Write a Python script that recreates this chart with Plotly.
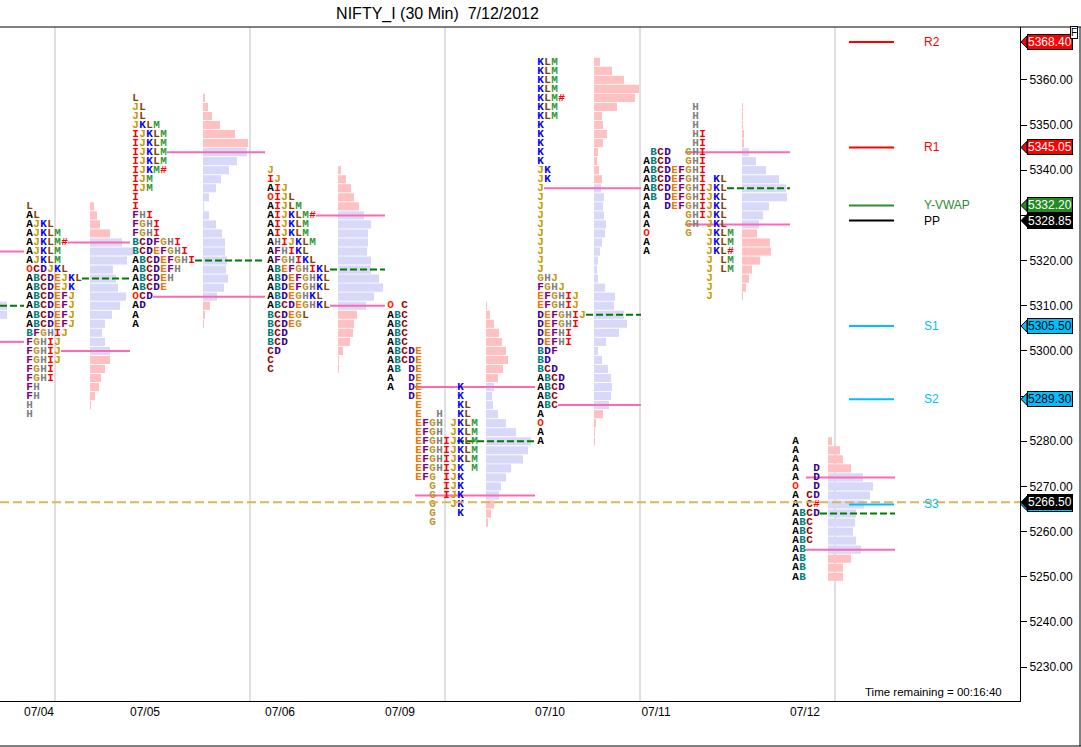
import plotly.graph_objects as go

# ---------------- data ----------------
days = ["07/04", "07/05", "07/06", "07/09", "07/10", "07/11", "07/12"]

# each profile: price of its top row, then one row every 2 points going down
top_0704 = 5332
tpo_0704 = ["L", "AL", "AJKL", "AJKLM", "AJKLM#", "AJKLM", "AJKLM", "OCDJKL",
            "ABCDEJKL", "ABCDEJK", "ABCDEFJ", "ABCDEFJ", "ABCDEFJ", "ABCDEFJ",
            "BFGHIJ", "FGHIJ", "FGHIJ", "FGHIJ", "FGHI", "FGHI", "FH", "FH", "H", "H"]
vol_0704 = [4, 7, 10, 20, 32, 43, 37, 23, 26, 28, 36, 30, 22, 15, 12, 15, 20, 20,
            15, 11, 9, 5, 1, 0]

top_0705 = 5356
tpo_0705 = ["L", "JL", "JL", "JKLM", "IJKLM", "IJKLM", "IJKLM", "IJKLM", "IJKM#",
            "IJM", "IJM", "I", "I", "FHI", "FGHI", "FGHI", "BCDFGHI", "BCDEFGHI",
            "ABCDEFGHI", "ABCDEFH", "ABCDEH", "ABCDE", "OCD", "AD", "A", "A"]
vol_0705 = [2, 5, 9, 17, 32, 45, 44, 34, 26, 18, 13, 6, 1, 6, 13, 19, 22, 22, 24,
            23, 25, 21, 14, 7, 2, 1]

top_0706 = 5340
tpo_0706 = ["J", "IJ", "AIJ", "OIJL", "AIJLM", "AIJKLM#", "AIJKLM", "AIJKLM",
            "AHIJKLM", "AFHIKL", "AFGHIKL", "ABEFGHIKL", "ABDEFGHKL", "ABDEFGHKL",
            "ABDEGHKL", "ABCDEGHKL", "BCDEGL", "BCDEG", "BCD", "BCD", "CD", "C", "C"]
vol_0706 = [3, 8, 13, 16, 21, 26, 33, 30, 30, 29, 33, 33, 41, 45, 36, 28, 19, 16,
            15, 12, 5, 1, 1]

top_0709 = 5310
tpo_0709 = ["O C", "ABC", "ABC", "ABC", "ABC", "ABCDE", "ABCDE", "AB DE", "A  DE",
            "A  DE     K", "   DE     K", "    E     KL", "    E  H  KL",
            "    EFGH JKLM", "    EFGH JKLM", "    EFGHIJKLM", "    EFGHIJKLM",
            "    EFGHIJKLM", "    EFGHIJK M", "    EFG IJK", "      G IJK",
            "      G IJK", "      G  JK", "      G   K", "      G"]
vol_0709 = [1, 4, 8, 13, 16, 20, 22, 17, 12, 8, 6, 7, 12, 20, 30, 45, 42, 37, 25,
            20, 15, 13, 8, 5, 2]

top_0710 = 5364
tpo_0710 = ["KLM", "KLM", "KLM", "KLM", "KLM#", "KLM", "KLM", "K", "K", "K", "K", "K",
            "JK", "JK", "J", "J", "J", "J", "J", "J", "J", "J", "J", "J", "GHJ",
            "FGHJ", "EFGHIJ", "EFGHIJ", "DEFGHIJ", "DEFGHI", "DEFHI", "DEFHI", "BDF",
            "BD", "BCD", "ABCD", "ABCD", "ABC", "ABC", "A", "O", "A", "A"]
vol_0710 = [6, 18, 30, 45, 41, 23, 8, 9, 13, 9, 4, 3, 5, 8, 7, 10, 9, 10, 12, 11, 8,
            6, 4, 3, 4, 11, 21, 20, 30, 33, 25, 12, 4, 8, 14, 17, 18, 17, 15, 9, 2, 1, 1]

top_0711 = 5354
tpo_0711 = ["       H", "       H", "       H", "       HI", "       HI",
            " BCD  GHI", "ABCD  GHI", "ABCDEFGHI", "ABCDEFGHI KL", "ABCDEFGHIJKL",
            "AB DEFGHIJKL", "A  DEFGHIJKL", "A     GHIJKL", "A     GH JKL",
            "O     G  JKLM", "A        JKLM", "A        JKL#", "         J LM",
            "         J LM", "         J", "         J", "         J"]
vol_0711 = [1, 1, 1, 2, 2, 7, 14, 24, 37, 44, 45, 27, 21, 17, 15, 28, 29, 18, 10, 7, 4, 1]

top_0712 = 5280
tpo_0712 = ["A", "A", "A", "A  D", "A  D", "O  D", "A CD", "A C#", "ABCD", "ABC",
            "ABC", "ABC", "AB", "AB", "AB", "AB"]
vol_0712 = [4, 12, 15, 23, 35, 45, 42, 36, 28, 27, 25, 28, 33, 23, 15, 15]

# value area high, point of control, value area low
vah = [5324, 5344, 5330, 5292, 5336, 5344, 5272]
poc = [5316, 5320, 5318, 5280, 5308, 5336, 5264]
val = [5300, 5312, 5310, 5268, 5288, 5328, 5256]

# tail of the previous session (07/03) at the left edge
prev_top = 5310
prev_vol = [7, 7]
prev_vah, prev_poc, prev_val = 5322, 5310, 5302

pivot_names = ["R2", "R1", "Y-VWAP", "PP", "S1", "S2", "S3"]
pivot_vals = [5368.40, 5345.05, 5332.20, 5328.85, 5305.50, 5289.30, 5266.00]
last_price = 5266.50

# ---------------- layout / style ----------------
tick = 2
char_w = 7
day_x0 = [26, 132, 267, 387, 537, 643, 792]
session_lines = [55, 250, 445, 640, 835]
last_line_end = 895
line_cols = {"07/09": (4, 10, 4), "07/11": (6, 12, 6), "07/12": (2, 4, 2)}

pink = "#FFC0C2"
lav = "#D8D8F8"
va_line = "#FF69B4"
poc_line = "#007A00"

letter_colors = {
    "A": "#000000", "B": "#008080", "C": "#990000", "D": "#330099",
    "E": "#F07800", "F": "#800080", "G": "#BC9430", "H": "#808080",
    "I": "#FF0000", "J": "#C89B00", "K": "#0000FF", "L": "#8B4000",
    "M": "#339933", "O": "#FF2000", "#": "#FF0000",
}
pivot_colors = ["#FF0000", "#FF0000", "#2E8B2E", "#000000", "#00BFFF", "#00BFFF", "#00BFFF"]
tag_bg = ["#FF0000", "#FF0000", "#228B22", "#000000", "#00BFFF", "#00BFFF", "#00BFFF"]
tag_fg = ["white", "white", "white", "white", "black", "black", "black"]

tops = [top_0704, top_0705, top_0706, top_0709, top_0710, top_0711, top_0712]
tpos = [tpo_0704, tpo_0705, tpo_0706, tpo_0709, tpo_0710, tpo_0711, tpo_0712]
vols = [vol_0704, vol_0705, vol_0706, vol_0709, vol_0710, vol_0711, vol_0712]

Y0, Y1 = 5222.5, 5371.7

fig = go.Figure()

# previous session remnant
prev_prices = [prev_top - tick * k for k in range(len(prev_vol))]
fig.add_trace(go.Bar(x=prev_vol, y=prev_prices, base=0, orientation="h", width=1.8,
                     marker=dict(color=lav, line_width=0)))
for lvl, col, dash in [(prev_vah, va_line, "solid"), (prev_poc, poc_line, "7px,3px"),
                       (prev_val, va_line, "solid")]:
    fig.add_trace(go.Scatter(x=[0, day_x0[0] - 2], y=[lvl, lvl], mode="lines",
                             line=dict(color=col, width=2, dash=dash)))

letters = {}
for d in range(len(days)):
    rows = tpos[d]
    prices = [tops[d] - tick * k for k in range(len(rows))]
    ncols = max(len(r) for r in rows)
    hx = day_x0[d] + char_w * ncols + 8

    # volume histogram
    colors = [lav if val[d] <= p <= vah[d] else pink for p in prices]
    fig.add_trace(go.Bar(x=vols[d], y=prices, base=hx, orientation="h", width=1.8,
                         marker=dict(color=colors, line_width=0)))

    # value area / poc lines
    end = day_x0[d + 1] - 2 if d + 1 < len(days) else last_line_end
    for j, (lvl, col, dash) in enumerate([(vah[d], va_line, "solid"),
                                          (poc[d], poc_line, "7px,3px"),
                                          (val[d], va_line, "solid")]):
        k = (tops[d] - lvl) // tick
        c = line_cols[days[d]][j] if days[d] in line_cols else len(rows[k].rstrip())
        fig.add_trace(go.Scatter(x=[day_x0[d] + char_w * c, end], y=[lvl, lvl],
                                 mode="lines", line=dict(color=col, width=2, dash=dash)))

    # TPO letters
    for p, r in zip(prices, rows):
        for i, ch in enumerate(r):
            if ch == " ":
                continue
            letters.setdefault(ch, ([], []))
            letters[ch][0].append(day_x0[d] + char_w * i + 3.5)
            letters[ch][1].append(p)

for ch, (xs, ys) in letters.items():
    fig.add_trace(go.Scatter(
        x=xs, y=ys, mode="text", text=[ch] * len(xs), textposition="middle center",
        textfont=dict(family="Liberation Mono", size=11, color=letter_colors[ch],
                      weight="bold"),
    ))

# last price
fig.add_trace(go.Scatter(x=[0, 1020], y=[last_price, last_price], mode="lines",
                         line=dict(color="#DDB55E", width=2, dash="9px,4px")))

# pivot levels
annotations = []
for name, v, col in zip(pivot_names, pivot_vals, pivot_colors):
    fig.add_trace(go.Scatter(x=[849, 894], y=[v, v], mode="lines",
                             line=dict(color=col, width=2)))
    annotations.append(dict(x=922, y=v, xref="x", yref="y", text=name, showarrow=False,
                            xanchor="left", yanchor="middle",
                            font=dict(family="Liberation Sans", size=12, color=col)))

# price tags on the axis
shapes = []
px = 1 / 1020.0
tag_list = list(zip(pivot_vals, tag_bg, tag_fg))
tag_list.append((last_price, "#000000", "white"))
for v, bg, fg in tag_list:
    annotations.append(dict(x=1027 * px, y=v, xref="paper", yref="y", text="%.2f" % v,
                            showarrow=False, xanchor="left", yanchor="middle",
                            bgcolor=bg, bordercolor="black", borderwidth=1, borderpad=0,
                            font=dict(family="Liberation Sans", size=12, color=fg)))
    shapes.append(dict(type="path", xref="paper", yref="y",
                       path="M %f,%f L %f,%f L %f,%f Z" % (1021 * px, v, 1027 * px, v + 1.35,
                                                           1027 * px, v - 1.35),
                       fillcolor=bg, line=dict(color="black", width=1)))

for sx in session_lines:
    shapes.append(dict(type="line", xref="x", yref="paper", x0=sx, x1=sx, y0=0, y1=1,
                       line=dict(color="#C0C0C0", width=1), layer="below"))

# outer frame
shapes.append(dict(type="line", xref="paper", yref="paper", x0=0, x1=1081 * px, y0=1, y1=1,
                   line=dict(color="black", width=1)))
shapes.append(dict(type="line", xref="paper", yref="paper", x0=0, x1=1081 * px,
                   y0=-45 / 674.0, y1=-45 / 674.0, line=dict(color="black", width=1)))
shapes.append(dict(type="line", xref="paper", yref="paper", x0=1080 * px, x1=1080 * px,
                   y0=-45 / 674.0, y1=1, line=dict(color="black", width=1)))

annotations.append(dict(x=1074 * px, y=1 - 6 / 674.0, xref="paper", yref="paper", text="F",
                        showarrow=False, xanchor="center", yanchor="middle",
                        bordercolor="black", borderwidth=1, borderpad=0, bgcolor="white",
                        font=dict(family="Liberation Sans", size=10, color="black")))
annotations.append(dict(x=1004 * px, y=9 / 674.0, xref="paper", yref="paper",
                        text="Time remaining = 00:16:40", showarrow=False,
                        xanchor="right", yanchor="middle",
                        font=dict(family="Liberation Sans", size=11.5, color="black")))

fig.update_layout(
    width=1081, height=747,
    margin=dict(l=0, r=61, t=27, b=46),
    paper_bgcolor="white", plot_bgcolor="white",
    showlegend=False, barmode="overlay",
    title=dict(text="NIFTY_I (30 Min) \u00a07/12/2012", x=437.5 / 1081, xref="container",
               y=1 - 13 / 747.0, yref="container", xanchor="center", yanchor="middle",
               font=dict(family="Liberation Sans", size=16, color="black")),
    xaxis=dict(range=[0, 1020], showgrid=False, zeroline=False, showline=True,
               linecolor="black", linewidth=1, ticks="",
               tickvals=[x + 13 for x in day_x0], ticktext=days,
               tickfont=dict(family="Liberation Sans", size=12, color="black")),
    yaxis=dict(range=[Y0, Y1], side="right", showgrid=False, zeroline=False,
               showline=True, linecolor="black", linewidth=1,
               ticks="outside", ticklen=6, tickcolor="black",
               tickvals=list(range(5230, 5361, 10)), tickformat=".2f",
               tickfont=dict(family="Liberation Sans", size=12, color="black")),
    shapes=shapes,
    annotations=annotations,
)

# page body has a default 8px margin; drop it so the chart sits at the window corner
fig.write_html("out.html", config={"displayModeBar": False},
               post_script="document.body.style.margin='0px';")
